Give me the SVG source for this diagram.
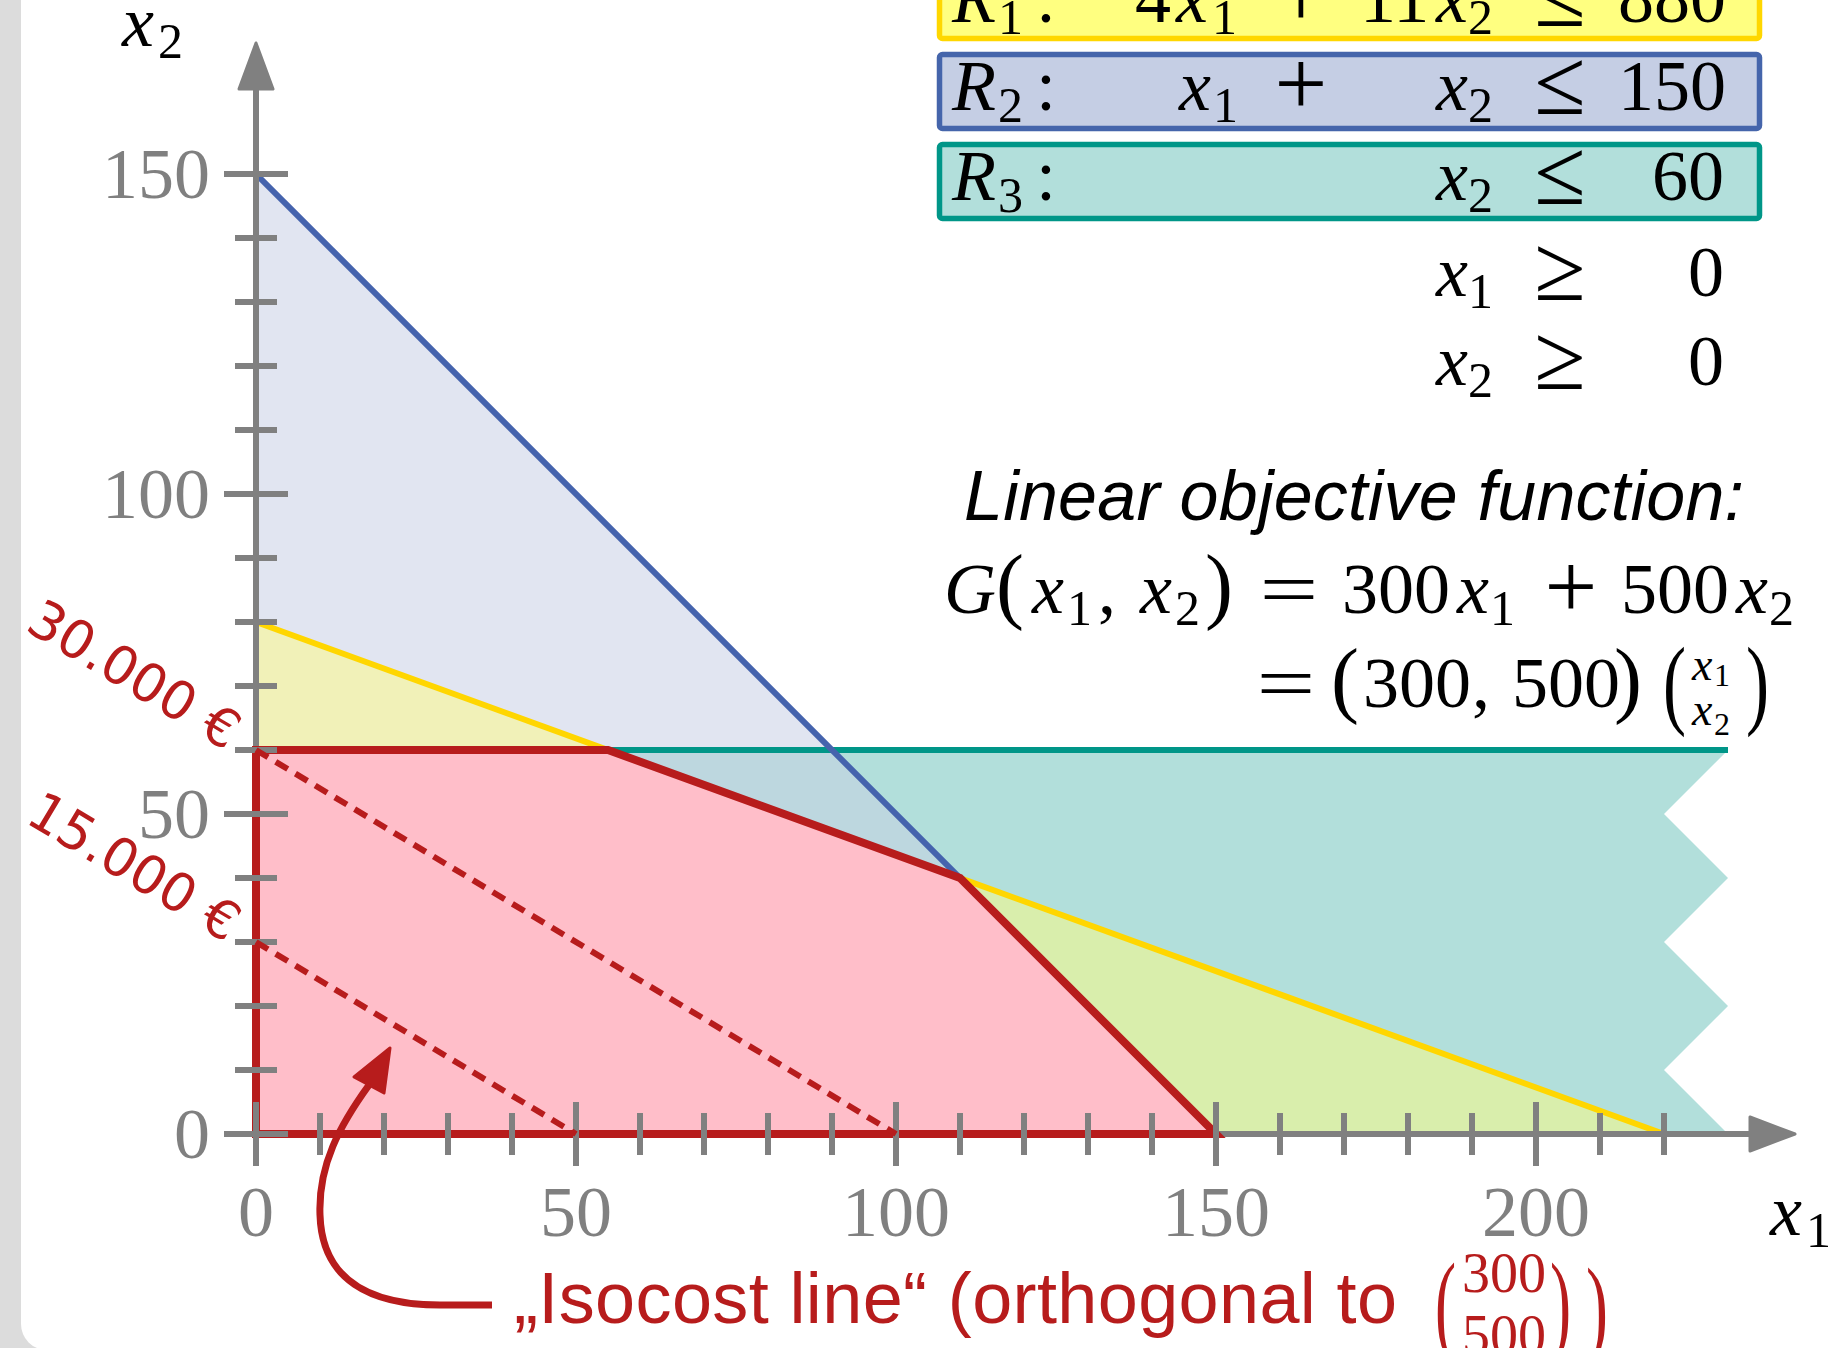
<svg xmlns="http://www.w3.org/2000/svg" width="1831" height="1348" viewBox="0 0 1831 1348">
<style>
.m{font-family:"Liberation Serif","DejaVu Serif",serif;font-size:72px;fill:#000}
.i{font-style:italic}
.s{font-size:50px}
.g{fill:#808080}
.sans{font-family:"Liberation Sans",Arial,sans-serif}
.red{fill:#B71C1C}
.tk{stroke:#808080;stroke-width:6;fill:none}
.ln{fill:none;stroke-width:6}
</style>
<rect width="1831" height="1348" fill="#dcdcdc"/>
<rect x="21" y="-40" width="1850" height="1390" rx="26" fill="#ffffff"/>

<g id="regions">
<polygon points="256,174 832,750 608,750 256,622" fill="#E1E5F1"/>
<polygon points="256,622 608,750 256,750" fill="#F1F1B8"/>
<polygon points="608,750 832,750 960,878" fill="#BDD7DF"/>
<polygon points="832,750 1728,750 1664,814 1728,878 1664,942 1728,1006 1664,1070 1728,1134 1664,1134 960,878" fill="#B2DFDB"/>
<polygon points="960,878 1664,1134 1216,1134" fill="#D9EEAC"/>
</g>

<g id="constraint-lines">
<path class="ln" d="M256,750 H1728" stroke="#009688"/>
<path class="ln" d="M256,622 L1664,1134" stroke="#FFD600"/>
<path class="ln" d="M256,174 L1216,1134" stroke="#4563AD"/>
</g>

<g id="axes">
<path class="tk" d="M256,1134 V86 M256,1134 H1752"/>
<polygon points="256,43 273,89 239,89" fill="#808080" stroke="#808080" stroke-width="3" stroke-linejoin="round"/>
<polygon points="1795,1134 1750,1117 1750,1151" fill="#808080" stroke="#808080" stroke-width="3" stroke-linejoin="round"/>
</g>

<g id="feasible-region">
<polygon points="256,1134 256,750 608,750 960,878 1216,1134" fill="#FFBEC9" stroke="#B71C1C" stroke-width="8"/>
</g>

<g id="ticks">
<path class="tk" d="M235,1070H277M235,1006H277M235,942H277M235,878H277M235,750H277M235,686H277M235,622H277M235,558H277M235,430H277M235,366H277M235,302H277M235,238H277
M224,1134H288M224,814H288M224,494H288M224,174H288
M320,1113V1155M384,1113V1155M448,1113V1155M512,1113V1155M640,1113V1155M704,1113V1155M768,1113V1155M832,1113V1155M960,1113V1155M1024,1113V1155M1088,1113V1155M1152,1113V1155M1280,1113V1155M1344,1113V1155M1408,1113V1155M1472,1113V1155M1600,1113V1155M1664,1113V1155
M256,1102V1166M576,1102V1166M896,1102V1166M1216,1102V1166M1536,1102V1166"/>
</g>

<g id="tick-labels" class="m g">
<text x="210" y="198" text-anchor="end">150</text>
<text x="210" y="518" text-anchor="end">100</text>
<text x="210" y="838" text-anchor="end">50</text>
<text x="210" y="1158" text-anchor="end">0</text>
<text x="256" y="1236" text-anchor="middle">0</text>
<text x="576" y="1236" text-anchor="middle">50</text>
<text x="896" y="1236" text-anchor="middle">100</text>
<text x="1216" y="1236" text-anchor="middle">150</text>
<text x="1536" y="1236" text-anchor="middle">200</text>
</g>

<g id="axis-labels" class="m">
<text><tspan class="i" x="122" y="46">x</tspan><tspan class="s" x="158" y="58">2</tspan></text>
<text><tspan class="i" x="1770" y="1235">x</tspan><tspan class="s" x="1806" y="1247">1</tspan></text>
</g>

<g id="isocost">
<path d="M256,750 L896,1134 M256,942 L576,1134" fill="none" stroke="#B71C1C" stroke-width="6" stroke-dasharray="14 9"/>
<text transform="translate(226,751) rotate(31)" text-anchor="end" font-family="DejaVu Sans, sans-serif" font-size="53" class="red">30.000 €</text>
<text transform="translate(226,943) rotate(31)" text-anchor="end" font-family="DejaVu Sans, sans-serif" font-size="53" class="red">15.000 €</text>
</g>

<g id="R1">
<rect x="939.5" y="-35.5" width="820" height="74" rx="3" fill="#FFFF80" stroke="#FFD700" stroke-width="5.5"/>
<text class="m"><tspan class="i" x="952" y="22">R</tspan><tspan class="s" x="998" y="34">1</tspan><tspan x="1036" y="22">:</tspan><tspan x="1135" y="22">4</tspan><tspan class="i" x="1176" y="22">x</tspan><tspan class="s" x="1212" y="34">1</tspan><tspan x="1360" y="22">11</tspan><tspan class="i" x="1436" y="22">x</tspan><tspan class="s" x="1468" y="34">2</tspan><tspan x="1618" y="22">880</tspan></text>
<text class="m" transform="translate(1301,4) scale(1.3)" y="18" text-anchor="middle">+</text>
<text class="m" transform="translate(1560,1) scale(1.3)" y="19" text-anchor="middle">≤</text>
</g>

<g id="R2">
<rect x="939.5" y="54.5" width="820" height="74" rx="3" fill="#C5CEE4" stroke="#4565AB" stroke-width="5.5"/>
<text class="m"><tspan class="i" x="952" y="110">R</tspan><tspan class="s" x="998" y="122">2</tspan><tspan x="1036" y="110">:</tspan><tspan class="i" x="1179" y="110">x</tspan><tspan class="s" x="1213" y="122">1</tspan><tspan class="i" x="1436" y="110">x</tspan><tspan class="s" x="1468" y="122">2</tspan><tspan x="1618" y="110">150</tspan></text>
<text class="m" transform="translate(1301,92) scale(1.3)" y="18" text-anchor="middle">+</text>
<text class="m" transform="translate(1560,89) scale(1.3)" y="19" text-anchor="middle">≤</text>
</g>

<g id="R3">
<rect x="939.5" y="144.5" width="820" height="74" rx="3" fill="#B2DFDB" stroke="#009688" stroke-width="5.5"/>
<text class="m"><tspan class="i" x="952" y="200">R</tspan><tspan class="s" x="998" y="212">3</tspan><tspan x="1036" y="200">:</tspan><tspan class="i" x="1436" y="200">x</tspan><tspan class="s" x="1468" y="212">2</tspan><tspan x="1652" y="200">60</tspan></text>
<text class="m" transform="translate(1560,179) scale(1.3)" y="19" text-anchor="middle">≤</text>
</g>

<g id="nonneg">
<text class="m"><tspan class="i" x="1436" y="296">x</tspan><tspan class="s" x="1468" y="308">1</tspan><tspan x="1688" y="296">0</tspan></text>
<text class="m" transform="translate(1560,275) scale(1.3)" y="19" text-anchor="middle">≥</text>
<text class="m"><tspan class="i" x="1436" y="385">x</tspan><tspan class="s" x="1468" y="397">2</tspan><tspan x="1688" y="385">0</tspan></text>
<text class="m" transform="translate(1560,364) scale(1.3)" y="19" text-anchor="middle">≥</text>
</g>

<g id="objective">
<text class="sans i" x="964" y="520" font-size="70" textLength="780">Linear objective function:</text>
<text class="m"><tspan class="i" x="944" y="613">G</tspan><tspan x="996" y="613" font-size="84">(</tspan><tspan class="i" x="1032" y="613">x</tspan><tspan class="s" x="1067" y="625">1</tspan><tspan x="1098" y="613">,</tspan><tspan class="i" x="1140" y="613">x</tspan><tspan class="s" x="1175" y="625">2</tspan><tspan x="1205" y="613" font-size="84">)</tspan><tspan x="1342" y="613">300</tspan><tspan class="i" x="1457" y="613">x</tspan><tspan class="s" x="1490" y="625">1</tspan><tspan x="1621" y="613">500</tspan><tspan class="i" x="1736" y="613">x</tspan><tspan class="s" x="1769" y="625">2</tspan></text>
<text class="m" transform="translate(1289,595) scale(1.45,1.05)" y="19" text-anchor="middle">=</text>
<text class="m" transform="translate(1571,595) scale(1.3)" y="18" text-anchor="middle">+</text>
<text class="m" transform="translate(1286,689) scale(1.45,1.05)" y="19" text-anchor="middle">=</text>
<text class="m"><tspan x="1331" y="707" font-size="84">(</tspan><tspan x="1363" y="707">300</tspan><tspan x="1472" y="707">,</tspan><tspan x="1512" y="707">500</tspan><tspan x="1614" y="707" font-size="84">)</tspan></text>
<text class="m" style="font-size:99px" transform="translate(1663,716) scale(0.7,1)">(</text>
<text class="m" style="font-size:99px" transform="translate(1746,716) scale(0.7,1)">)</text>
<text class="m" style="font-size:46px"><tspan class="i" x="1692" y="680">x</tspan><tspan x="1714" y="686" style="font-size:32px">1</tspan><tspan class="i" x="1692" y="725">x</tspan><tspan x="1714" y="735" style="font-size:32px">2</tspan></text>
</g>

<g id="connectors">
<path d="M492,1305 L440,1305 C370,1305 322,1280 320,1215 C318,1165 340,1125 369,1085" fill="none" stroke="#B71C1C" stroke-width="7"/>
<polygon points="390,1048 354,1077 384,1093" fill="#B71C1C" stroke="#B71C1C" stroke-width="3" stroke-linejoin="round"/>
</g>

<g id="isocost-label" class="red">
<text class="sans" x="514" y="1323" font-size="72" textLength="883">„Isocost line“ (orthogonal to</text>
<text class="m red" style="font-size:115px" transform="translate(1435,1342) scale(0.55,1)">(</text>
<text class="m red" style="font-size:56px" x="1462" y="1292">300</text>
<text class="m red" style="font-size:56px" x="1462" y="1354">500</text>
<text class="m red" style="font-size:115px" transform="translate(1550,1342) scale(0.55,1)">)</text>
<text class="m red" style="font-size:110px" transform="translate(1586,1344) scale(0.6,1)">)</text>
</g>
</svg>
